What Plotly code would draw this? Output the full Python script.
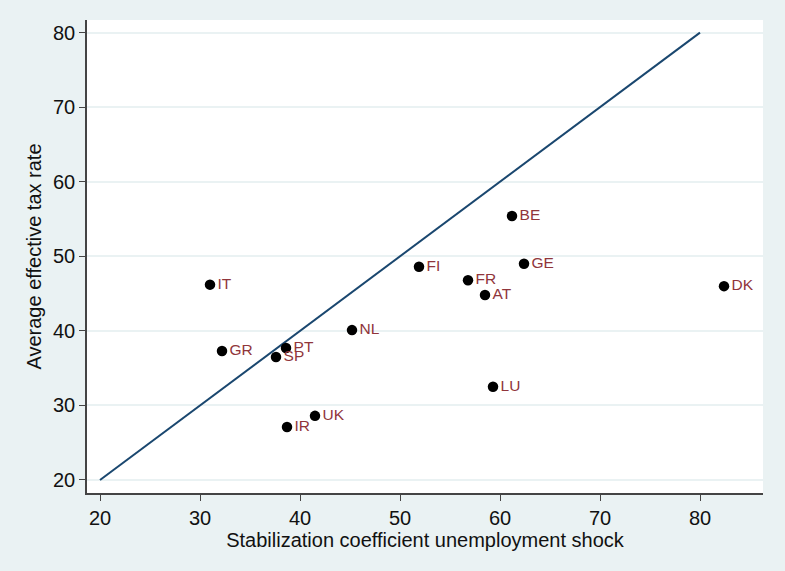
import plotly.graph_objects as go

countries = ["IT", "GR", "PT", "SP", "IR", "UK", "NL", "FI", "FR", "AT", "BE", "GE", "LU", "DK"]
stab_coef = [31.0, 32.2, 38.6, 37.6, 38.7, 41.5, 45.2, 51.9, 56.8, 58.5, 61.2, 62.4, 59.3, 82.4]
tax_rate = [46.2, 37.3, 37.7, 36.5, 27.1, 28.6, 40.1, 48.6, 46.8, 44.8, 55.4, 49.0, 32.5, 46.0]
diag_x = [20, 80]
diag_y = [20, 80]
x_ticks = [20, 30, 40, 50, 60, 70, 80]
y_ticks = [20, 30, 40, 50, 60, 70, 80]

BG = "#eaf2f3"
FONT = "Liberation Sans, Arial, sans-serif"

fig = go.Figure()
fig.add_trace(go.Scatter(
    x=diag_x, y=diag_y, mode="lines",
    line=dict(color="#1a476f", width=2), showlegend=False, hoverinfo="skip"))
fig.add_trace(go.Scatter(
    x=stab_coef, y=tax_rate, mode="markers+text", text=countries,
    textposition="middle right",
    textfont=dict(color="#90353b", size=15.5, family=FONT),
    marker=dict(color="black", size=10.5), showlegend=False))

axis_common = dict(
    showline=True, linecolor="#444444", linewidth=1.5,
    ticks="outside", ticklen=6, tickcolor="#444444", tickwidth=1.2,
    zeroline=False, mirror=False,
    tickfont=dict(size=20, color="#111111", family=FONT),
)

fig.update_layout(
    width=785, height=571,
    paper_bgcolor=BG, plot_bgcolor="white",
    margin=dict(l=87, r=22, t=20, b=78),
    font=dict(family=FONT, color="#111111"),
    xaxis=dict(
        range=[18.7, 86.3], tickvals=x_ticks, showgrid=False,
        title=dict(text="Stabilization coefficient unemployment shock",
                   font=dict(size=20, family=FONT), standoff=4),
        **axis_common),
    yaxis=dict(
        range=[18.25, 81.7], tickvals=y_ticks, showgrid=True,
        gridcolor=BG, gridwidth=1.5,
        title=dict(text="Average effective tax rate",
                   font=dict(size=20, family=FONT), standoff=6),
        **axis_common),
)

fig.write_html(
    "out.html",
    config={"displayModeBar": False},
    post_script="document.body.style.margin='0';document.body.style.overflow='hidden';",
)
